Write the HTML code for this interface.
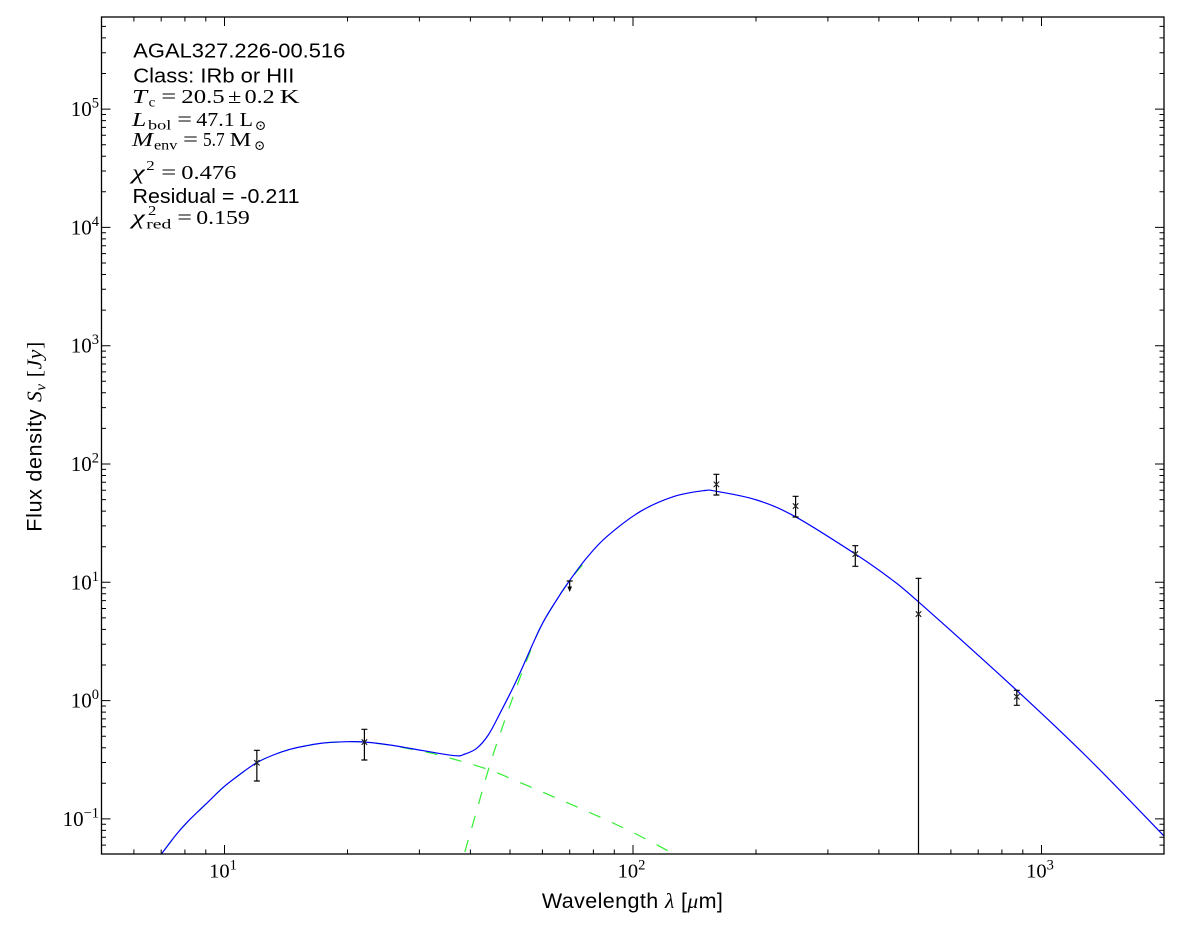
<!DOCTYPE html>
<html>
<head>
<meta charset="utf-8">
<style>
html,body{margin:0;padding:0;background:#fff;}
svg{display:block;}
.sans{font-family:"Liberation Sans",Arial,sans-serif;}
.serif{font-family:"Liberation Serif","DejaVu Serif",serif;}
</style>
</head>
<body>
<svg id="chart" width="1200" height="933" viewBox="0 0 1200 933" xmlns="http://www.w3.org/2000/svg">
<rect x="0" y="0" width="1200" height="933" fill="#fff"/>
<defs>
<clipPath id="pc"><rect x="101.5" y="17" width="1063" height="837"/></clipPath>
</defs>

<!-- curves -->
<g clip-path="url(#pc)" fill="none" stroke-linejoin="round">
<polyline class="sm" stroke="#33ee33" stroke-width="1.2" stroke-dasharray="12.5,12.5"
points="150,870 161.7,853.7 176.7,834 190,819.3 206.7,803.3 223.3,787.3 240,774.3 256.7,762.7 273.3,755 290,749.3 306.7,745.7 323.3,743 346.7,741.7 364,742 390,745.3 423.3,751.5 433,753.6 455,759.5 488.3,769.5 520,782.5 553.3,796.7 602,818 638,835 673.3,853.7 690,863"/>
<polyline class="sm" stroke="#33ee33" stroke-width="1.2" stroke-dasharray="12.5,12.5"
points="458,876 464.3,853.7 476,813 488.3,770 500,734 516.7,686.7 528,657 540,628.3 554.7,603 569.3,581 590,556"/>
<polyline class="sm" stroke="#0000ff" stroke-width="1.2"
points="150,870 161.7,853.7 176.7,834 190,819.3 206.7,803.3 223.3,787.3 240,774.3 256.7,762.7 273.3,755 290,749.3 306.7,745.7 323.3,743 346.7,741.7 364,742 390,745 423.3,750.7 455,755.7 465,754 476.7,748.3 488.3,735 500,713.3 516.7,680 540,628.3 554.7,603 569.3,581 587,557.5 606.7,536.7 640,511.7 673.3,496.7 703.3,490.7 716.3,491.3 756.7,500 795.3,516.7 855.3,554 890,578.3 918.3,601.7 1016.3,690 1090,760 1164.5,836.5 1175,847"/>
</g>

<!-- error bars & markers -->
<g stroke="#000" stroke-width="1.2" fill="none" clip-path="url(#pc)">
<path d="M256.85,750.3V781 M253.85,750.3h6 M253.85,781h6"/>
<path d="M364.4,729.3V760 M361.4,729.3h6 M361.4,760h6"/>
<path d="M569.7,581V588 M566.7,581h6"/>
<path d="M716.4,474.3V495 M713.4,474.3h6 M713.4,495h6"/>
<path d="M795.6,496.3V517 M792.6,496.3h6 M792.6,517h6"/>
<path d="M855.3,545.7V566.3 M852.3,545.7h6 M852.3,566.3h6"/>
<path d="M918.5,578.3V856 M915.5,578.3h6"/>
<path d="M1016.8,690.3V705.3 M1013.8,690.3h6 M1013.8,705.3h6"/>
</g>
<path d="M567.4,586.5 L572,586.5 L569.7,592 Z" fill="#000"/>
<g stroke="#222" stroke-width="1.1">
<path d="M254.1,760l5.5,5.5 M254.1,765.5l5.5,-5.5"/>
<path d="M361.65,739.3l5.5,5.5 M361.65,744.8l5.5,-5.5"/>
<path d="M713.65,481.6l5.5,5.5 M713.65,487.1l5.5,-5.5"/>
<path d="M792.85,503.3l5.5,5.5 M792.85,508.8l5.5,-5.5"/>
<path d="M852.55,551.3l5.5,5.5 M852.55,556.8l5.5,-5.5"/>
<path d="M915.75,611.3l5.5,5.5 M915.75,616.8l5.5,-5.5"/>
<path d="M1014.05,694l5.5,5.5 M1014.05,699.5l5.5,-5.5"/>
</g>

<!-- ticks -->
<g stroke="#000" stroke-width="1" fill="none">
<path d="M224.5,854v-9 M633,854v-9 M1041.5,854v-9 M224.5,17v9 M633,17v9 M1041.5,17v9"/>
<path d="M133.9,854v-4.5 M161.2,854v-4.5 M184.9,854v-4.5 M205.8,854v-4.5
M347.5,854v-4.5 M419.4,854v-4.5 M470.4,854v-4.5 M510,854v-4.5 M542.4,854v-4.5 M569.7,854v-4.5 M593.4,854v-4.5 M614.3,854v-4.5
M756,854v-4.5 M827.9,854v-4.5 M878.9,854v-4.5 M918.5,854v-4.5 M950.9,854v-4.5 M978.2,854v-4.5 M1001.9,854v-4.5 M1022.8,854v-4.5
M133.9,17v4.5 M161.2,17v4.5 M184.9,17v4.5 M205.8,17v4.5
M347.5,17v4.5 M419.4,17v4.5 M470.4,17v4.5 M510,17v4.5 M542.4,17v4.5 M569.7,17v4.5 M593.4,17v4.5 M614.3,17v4.5
M756,17v4.5 M827.9,17v4.5 M878.9,17v4.5 M918.5,17v4.5 M950.9,17v4.5 M978.2,17v4.5 M1001.9,17v4.5 M1022.8,17v4.5"/>
<path d="M101.5,109.1h9 M101.5,227.4h9 M101.5,345.7h9 M101.5,464h9 M101.5,582.3h9 M101.5,700.6h9 M101.5,818.9h9
M1164,109.1h-9 M1164,227.4h-9 M1164,345.7h-9 M1164,464h-9 M1164,582.3h-9 M1164,700.6h-9 M1164,818.9h-9"/>
<path d="M101.5,845.1h4.5 M101.5,837.2h4.5 M101.5,830.4h4.5 M101.5,824.3h4.5
M101.5,783.3h4.5 M101.5,762.5h4.5 M101.5,747.7h4.5 M101.5,736.2h4.5 M101.5,726.8h4.5 M101.5,718.9h4.5 M101.5,712.1h4.5 M101.5,706h4.5
M101.5,665h4.5 M101.5,644.2h4.5 M101.5,629.4h4.5 M101.5,617.9h4.5 M101.5,608.5h4.5 M101.5,600.6h4.5 M101.5,593.8h4.5 M101.5,587.7h4.5
M101.5,546.7h4.5 M101.5,525.9h4.5 M101.5,511.1h4.5 M101.5,499.6h4.5 M101.5,490.2h4.5 M101.5,482.3h4.5 M101.5,475.5h4.5 M101.5,469.4h4.5
M101.5,428.4h4.5 M101.5,407.6h4.5 M101.5,392.8h4.5 M101.5,381.3h4.5 M101.5,371.9h4.5 M101.5,364h4.5 M101.5,357.2h4.5 M101.5,351.1h4.5
M101.5,310.1h4.5 M101.5,289.3h4.5 M101.5,274.5h4.5 M101.5,263h4.5 M101.5,253.6h4.5 M101.5,245.7h4.5 M101.5,238.9h4.5 M101.5,232.8h4.5
M101.5,191.8h4.5 M101.5,171h4.5 M101.5,156.2h4.5 M101.5,144.7h4.5 M101.5,135.3h4.5 M101.5,127.4h4.5 M101.5,120.6h4.5 M101.5,114.5h4.5
M101.5,73.5h4.5 M101.5,52.7h4.5 M101.5,37.9h4.5 M101.5,26.4h4.5"/>
<path d="M1164,845.1h-4.5 M1164,837.2h-4.5 M1164,830.4h-4.5 M1164,824.3h-4.5
M1164,783.3h-4.5 M1164,762.5h-4.5 M1164,747.7h-4.5 M1164,736.2h-4.5 M1164,726.8h-4.5 M1164,718.9h-4.5 M1164,712.1h-4.5 M1164,706h-4.5
M1164,665h-4.5 M1164,644.2h-4.5 M1164,629.4h-4.5 M1164,617.9h-4.5 M1164,608.5h-4.5 M1164,600.6h-4.5 M1164,593.8h-4.5 M1164,587.7h-4.5
M1164,546.7h-4.5 M1164,525.9h-4.5 M1164,511.1h-4.5 M1164,499.6h-4.5 M1164,490.2h-4.5 M1164,482.3h-4.5 M1164,475.5h-4.5 M1164,469.4h-4.5
M1164,428.4h-4.5 M1164,407.6h-4.5 M1164,392.8h-4.5 M1164,381.3h-4.5 M1164,371.9h-4.5 M1164,364h-4.5 M1164,357.2h-4.5 M1164,351.1h-4.5
M1164,310.1h-4.5 M1164,289.3h-4.5 M1164,274.5h-4.5 M1164,263h-4.5 M1164,253.6h-4.5 M1164,245.7h-4.5 M1164,238.9h-4.5 M1164,232.8h-4.5
M1164,191.8h-4.5 M1164,171h-4.5 M1164,156.2h-4.5 M1164,144.7h-4.5 M1164,135.3h-4.5 M1164,127.4h-4.5 M1164,120.6h-4.5 M1164,114.5h-4.5
M1164,73.5h-4.5 M1164,52.7h-4.5 M1164,37.9h-4.5 M1164,26.4h-4.5"/>
</g>

<!-- frame -->
<rect x="101.5" y="17" width="1062.5" height="837" fill="none" stroke="#000" stroke-width="1.3"/>

<!-- y tick labels -->
<g class="serif" font-size="21" fill="#000" text-anchor="end">
<text x="99" y="116.1">10<tspan font-size="14.5" dy="-8.5">5</tspan></text>
<text x="99" y="234.4">10<tspan font-size="14.5" dy="-8.5">4</tspan></text>
<text x="99" y="352.7">10<tspan font-size="14.5" dy="-8.5">3</tspan></text>
<text x="99" y="471">10<tspan font-size="14.5" dy="-8.5">2</tspan></text>
<text x="99" y="589.3">10<tspan font-size="14.5" dy="-8.5">1</tspan></text>
<text x="99" y="707.6">10<tspan font-size="14.5" dy="-8.5">0</tspan></text>
<text x="99" y="825.9">10<tspan font-size="14.5" dy="-8.5">−1</tspan></text>
</g>

<!-- x tick labels -->
<g class="serif" font-size="20.5" fill="#000" text-anchor="middle">
<text x="223" y="877.3">10<tspan font-size="14.5" dy="-8">1</tspan></text>
<text x="631.5" y="877.3">10<tspan font-size="14.5" dy="-8">2</tspan></text>
<text x="1040" y="877.3">10<tspan font-size="14.5" dy="-8">3</tspan></text>
</g>

<!-- axis labels -->
<text x="632.4" y="908" text-anchor="middle" font-size="21.5" class="sans" fill="#000" textLength="181" lengthAdjust="spacing">Wavelength <tspan class="serif" font-style="italic">λ</tspan> [<tspan class="serif" font-style="italic">μ</tspan>m]</text>
<text x="41.5" y="436.7" text-anchor="middle" font-size="21.5" class="sans" fill="#000" transform="rotate(-90 41.5 436.7)" textLength="190" lengthAdjust="spacing">Flux density <tspan class="serif" font-style="italic">S</tspan><tspan class="serif" font-style="italic" font-size="15" dy="4">ν</tspan><tspan class="serif" dy="-4"> [</tspan><tspan class="serif" font-style="italic">Jy</tspan><tspan class="serif">]</tspan></text>

<!-- annotation -->
<g fill="#000">
<text x="133.3" y="57.3" class="sans" font-size="20.5" textLength="212" lengthAdjust="spacingAndGlyphs">AGAL327.226-00.516</text>
<text x="133.3" y="82.7" class="sans" font-size="20.5" textLength="161" lengthAdjust="spacingAndGlyphs">Class: IRb or HII</text>
</g>
<g class="serif" font-size="20" fill="#000">
<!-- T_c line -->
<text x="132" y="103" font-style="italic" textLength="15" lengthAdjust="spacingAndGlyphs">T</text>
<text x="148.7" y="106.5" font-size="14" textLength="6.6" lengthAdjust="spacingAndGlyphs">c</text>
<text x="161.3" y="103" textLength="15" lengthAdjust="spacingAndGlyphs">=</text>
<text x="181.3" y="103" textLength="43.4" lengthAdjust="spacingAndGlyphs">20.5</text>
<text x="228" y="103" textLength="13.3" lengthAdjust="spacingAndGlyphs">±</text>
<text x="244.7" y="103" textLength="30" lengthAdjust="spacingAndGlyphs">0.2</text>
<text x="279.7" y="103" textLength="20" lengthAdjust="spacingAndGlyphs">K</text>
<!-- L_bol -->
<text x="132" y="126" font-style="italic" textLength="14.3" lengthAdjust="spacingAndGlyphs">L</text>
<text x="148" y="129.5" font-size="14" textLength="23.3" lengthAdjust="spacingAndGlyphs">bol</text>
<text x="177.3" y="126" textLength="14.7" lengthAdjust="spacingAndGlyphs">=</text>
<text x="196.3" y="126" textLength="38.4" lengthAdjust="spacingAndGlyphs">47.1</text>
<text x="239.7" y="126" textLength="13.3" lengthAdjust="spacingAndGlyphs">L</text>
<text x="254.7" y="130" font-size="14" textLength="11.6" lengthAdjust="spacingAndGlyphs">⊙</text>
<!-- M_env -->
<text x="132" y="146" font-style="italic" textLength="21" lengthAdjust="spacingAndGlyphs">M</text>
<text x="154" y="149.5" font-size="14" textLength="23.3" lengthAdjust="spacingAndGlyphs">env</text>
<text x="183" y="146" textLength="15" lengthAdjust="spacingAndGlyphs">=</text>
<text x="203" y="146" textLength="21.7" lengthAdjust="spacingAndGlyphs">5.7</text>
<text x="229.7" y="146" textLength="21.6" lengthAdjust="spacingAndGlyphs">M</text>
<text x="254" y="150" font-size="14" textLength="11.3" lengthAdjust="spacingAndGlyphs">⊙</text>
<!-- chi2 -->
<text x="132" y="179" font-style="italic" textLength="12.7" lengthAdjust="spacingAndGlyphs">χ</text>
<text x="146.3" y="170" font-size="14" textLength="8.4" lengthAdjust="spacingAndGlyphs">2</text>
<text x="161.3" y="179" textLength="15" lengthAdjust="spacingAndGlyphs">=</text>
<text x="181.3" y="179" textLength="55" lengthAdjust="spacingAndGlyphs">0.476</text>
<!-- chi2 red -->
<text x="132" y="224" font-style="italic" textLength="12.7" lengthAdjust="spacingAndGlyphs">χ</text>
<text x="148" y="215" font-size="14" textLength="8.3" lengthAdjust="spacingAndGlyphs">2</text>
<text x="146.3" y="228.5" font-size="14" textLength="25" lengthAdjust="spacingAndGlyphs">red</text>
<text x="177.3" y="224" textLength="14.7" lengthAdjust="spacingAndGlyphs">=</text>
<text x="196.3" y="224" textLength="53.4" lengthAdjust="spacingAndGlyphs">0.159</text>
</g>
<text x="132.5" y="203" class="sans" font-size="20.5" fill="#000" textLength="167" lengthAdjust="spacingAndGlyphs">Residual = -0.211</text>
</svg>
<script>
(function(){
  var NS="http://www.w3.org/2000/svg";
  var pls=document.querySelectorAll("polyline.sm");
  for(var k=0;k<pls.length;k++){
    var pl=pls[k];
    var raw=pl.getAttribute("points").trim().split(/\s+/);
    var p=raw.map(function(s){var a=s.split(",");return [parseFloat(a[0]),parseFloat(a[1])];});
    var d="M"+p[0][0]+","+p[0][1];
    for(var i=0;i<p.length-1;i++){
      var p0=p[i-1]||p[i],p1=p[i],p2=p[i+1],p3=p[i+2]||p[i+1];
      var c1x=p1[0]+(p2[0]-p0[0])/6,c1y=p1[1]+(p2[1]-p0[1])/6;
      var c2x=p2[0]-(p3[0]-p1[0])/6,c2y=p2[1]-(p3[1]-p1[1])/6;
      d+=" C"+c1x.toFixed(2)+","+c1y.toFixed(2)+" "+c2x.toFixed(2)+","+c2y.toFixed(2)+" "+p2[0]+","+p2[1];
    }
    var path=document.createElementNS(NS,"path");
    path.setAttribute("d",d);
    ["stroke","stroke-width","stroke-dasharray"].forEach(function(a){var v=pl.getAttribute(a);if(v)path.setAttribute(a,v);});
    path.setAttribute("fill","none");
    pl.parentNode.replaceChild(path,pl);
  }
})();
</script>
</body>
</html>
